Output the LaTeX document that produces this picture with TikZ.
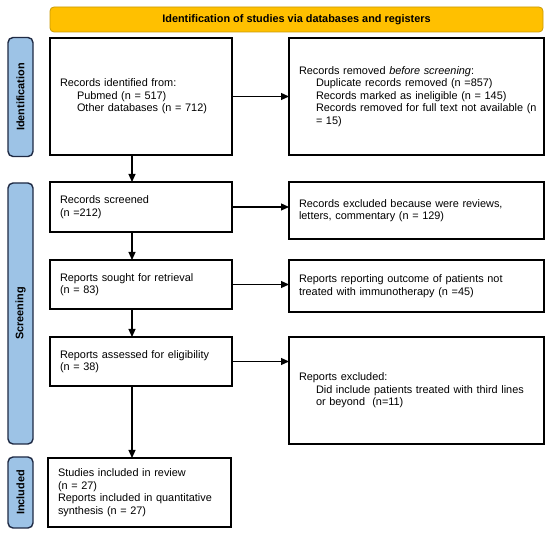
\documentclass[tikz,border=0pt]{standalone}
\usepackage{fontspec}
\setmainfont{Liberation Sans}
\usepackage{xcolor}
\usepackage{tikz}
\usetikzlibrary{positioning, arrows.meta, calc}

\definecolor{bannergold}{HTML}{FFC000}
\definecolor{bannerline}{HTML}{C99A06}
\definecolor{tabblue}{HTML}{9DC3E6}
\definecolor{tabline}{HTML}{1F2A44}
\newcommand{\subind}{\hspace*{17pt}}

\begin{document}
\begin{tikzpicture}[x=1pt, y=-1pt,
    every node/.style={font=\fontsize{10.9}{12.6}\selectfont, outer sep=0pt},
    banner/.style={draw=bannerline, line width=0.8pt, fill=bannergold, rounded corners=4pt,
      minimum width=493pt, minimum height=25pt, font=\fontsize{10.9}{12.6}\selectfont\bfseries},
    phase/.style={draw=tabline, line width=1.4pt, fill=tabblue, rounded corners=5pt, rotate=90,
      minimum height=25pt, font=\fontsize{10.9}{12.6}\selectfont\bfseries},
    lbox/.style={draw, line width=1.4pt, align=left, text width=162pt, inner xsep=10pt},
    rbox/.style={draw, line width=1.4pt, align=left, text width=235pt, inner xsep=10pt},
    arr/.style={-{Triangle[length=8pt,width=7pt]}, line width=1.2pt}]
  \useasboundingbox (0,0) rectangle (550,534);

  \node[banner] (ban) at (296.5,19.5) {Identification of studies via databases and registers};

  \node[phase, minimum width=119pt] (idtab) at (20.5,97) {Identification};
  \node[phase, minimum width=261pt] (scrtab) at (20.5,313.5) {Screening};
  \node[phase, minimum width=71pt] (inctab) at (20.5,492.5) {Included};

  \node[lbox, minimum height=117pt] (ident) at (141,96.5)
    {Records identified from:\\ \subind Pubmed (n = 517)\\ \subind Other databases (n = 712)};
  \node[rbox, minimum height=117pt] (removed) at (416.5,96.5)
    {Records removed \textit{before screening}:\\
     \subind Duplicate records removed (n =857)\\
     \subind Records marked as ineligible (n = 145)\\
     \subind\mbox{Records removed for full text not available (n}\\
     \subind = 15)};

  \node[lbox, minimum height=50pt] (screened) at (141,207) {Records screened\\ (n =212)};
  \node[rbox, minimum height=57pt] (excl1) at (416.5,210.5)
    {Records excluded because were reviews,\\ letters, commentary (n = 129)};

  \node[lbox, minimum height=49pt] (sought) at (141,284.5) {Reports sought for retrieval\\ (n = 83)};
  \node[rbox, minimum height=52pt] (excl2) at (416.5,286)
    {Reports reporting outcome of patients not\\ treated with immunotherapy (n =45)};

  \node[lbox, minimum height=49pt] (assessed) at (141,361.5) {Reports assessed for eligibility\\ (n = 38)};
  \node[rbox, minimum height=107pt] (excl3) at (416.5,390.5)
    {Reports excluded:\\
     \subind Did include patients treated with third lines\\
     \subind or beyond\ \ (n=11)};

  \node[lbox, text width=163pt, minimum height=69pt] (incl) at (139.5,492.5)
    {Studies included in review\\ (n = 27)\\ Reports included in quantitative\\ synthesis (n = 27)};

  \coordinate (spine) at (132,0);
  \draw[arr] (ident.south -| spine) -- (screened.north -| spine);
  \draw[arr] (screened.south -| spine) -- (sought.north -| spine);
  \draw[arr] (sought.south -| spine) -- (assessed.north -| spine);
  \draw[arr] (assessed.south -| spine) -- (incl.north -| spine);

  \draw[arr] (ident.east) -- (ident.east -| removed.west);
  \draw[arr] (screened.east) -- (screened.east -| excl1.west);
  \draw[arr] (sought.east) -- (sought.east -| excl2.west);
  \draw[arr] (assessed.east) -- (assessed.east -| excl3.west);
\end{tikzpicture}
\end{document}
